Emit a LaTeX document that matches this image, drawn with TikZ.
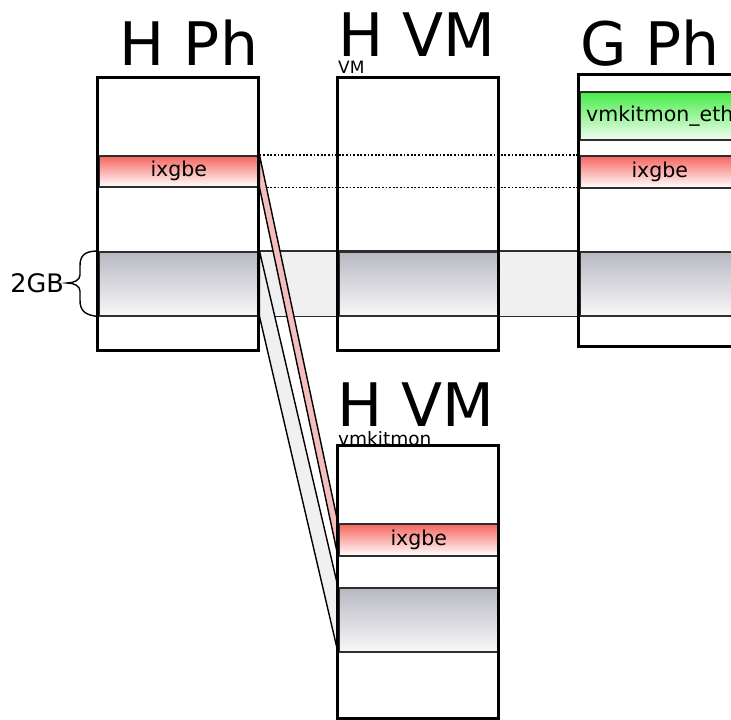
\documentclass[tikz,border=0pt]{standalone}
\usepackage{fontspec}
\setmainfont{DejaVu Sans}
\usetikzlibrary{calc}
\definecolor{redtop}{RGB}{246,100,94}
\definecolor{greentop}{RGB}{70,236,70}
\definecolor{greenbot}{RGB}{242,253,242}
\definecolor{graytop}{RGB}{184,184,194}
\definecolor{graybot}{RGB}{248,248,248}
\definecolor{lightband}{RGB}{240,240,240}
\definecolor{pinkfill}{RGB}{245,190,190}
\definecolor{bandgray}{RGB}{45,45,45}
\tikzset{
  boxfill/.style={fill=white, draw=none, inner sep=0pt, minimum width=160pt, minimum height=272pt},
  boxline/.style={draw=black, line width=3pt},
  bandbase/.style={draw=bandgray, line width=1.5pt, inner sep=0pt, minimum width=160pt, anchor=north west, font=\fontsize{20.5}{20.5}\selectfont},
  redband/.style={bandbase, top color=redtop, bottom color=white},
  greenband/.style={bandbase, top color=greentop, bottom color=greenbot},
  memband/.style={bandbase, top color=graytop, bottom color=graybot},
  title/.style={inner sep=0pt, anchor=base, font=\fontsize{60}{60}\selectfont},
  subtitle/.style={inner sep=0pt, anchor=base west, font=\fontsize{18.5}{18.5}\selectfont},
  dotline/.style={draw=black, line width=1.5pt, dash pattern=on 1.8pt off 1.8pt},
  pinkstrip/.style={fill=pinkfill, draw=black, line width=1.4pt, line join=round},
  graystrip/.style={fill=lightband, draw=black, line width=1.4pt, line join=round},
  thinline/.style={draw=bandgray, line width=1.5pt},
}
\begin{document}
\begin{tikzpicture}[x=1pt,y=-1pt]
\useasboundingbox (0,0) rectangle (731,720);
\clip (0,0) rectangle (731,720);

% box backgrounds
\node[boxfill] (hph) at (178,214) {};
\node[boxfill] (tvm) at (418,214) {};
\node[boxfill, minimum height=271pt] (gph) at (659,210.5) {};
\node[boxfill] (bvm) at (418,582) {};

% bands
\node[redband, minimum height=31pt] (hphnic) at (98,155) {ixgbe};
\node[memband, minimum height=64pt] (hphmem) at (98,251) {};
\node[memband, minimum height=64pt] (tvmmem) at (338,251) {};
\node[greenband, minimum height=48pt] (gpheth) at (579,91) {vmkitmon\_eth};
\node[redband, minimum height=32pt] (gphnic) at (579,155) {ixgbe};
\node[memband, minimum height=64pt] (gphmem) at (579,251) {};
\node[redband, minimum height=32pt] (bvmnic) at (338,523) {ixgbe};
\node[memband, minimum height=64pt] (bvmmem) at (338,587) {};

% light band between boxes
\fill[lightband] (hphmem.north east) rectangle (tvmmem.south west);
\fill[lightband] (tvmmem.north east) rectangle (gphmem.south west);
\draw[thinline] (hphmem.north east) -- (gphmem.north west);
\draw[thinline] (hphmem.south east) -- (gphmem.south west);

% dotted guide lines
\draw[dotline] (hphnic.north east) -- (hphnic.north east -| gphnic.west);
\draw[dotline] (hphnic.south east) -- (hphnic.south east -| gphnic.west);

% mapping strips
\draw[graystrip] (hphmem.north east) -- (hphmem.south east) -- (bvmmem.south west) -- (bvmmem.north west) -- cycle;
\draw[pinkstrip] (hphnic.north east) -- (hphnic.south east) -- (bvmnic.south west) -- (bvmnic.north west) -- cycle;

% box outlines
\draw[boxline] (hph.north west) rectangle (hph.south east);
\draw[boxline] (tvm.north west) rectangle (tvm.south east);
\draw[boxline] (gph.north west) rectangle (gph.south east);
\draw[boxline] (bvm.north west) rectangle (bvm.south east);

% titles
\node[title] (thph) at (189,65) {H Ph};
\node[title] (ttvm) at (417,56) {H VM};
\node[title, anchor=base west] (tgph) at (580,65) {G Ph};
\node[title] (tbvm) at (416,426) {H VM};
\node[subtitle, font=\fontsize{17}{17}\selectfont] (stvm) at (338,73) {VM};
\node[subtitle] (sbvm) at (338,445) {vmkitmon};

% brace
\coordinate (tip) at (67,283);
\draw[line width=1.4pt] (hphmem.north west) .. controls (84,251) and (80,256) .. (80,266) -- (80,275)
  .. controls (80,280) and (74,283) .. (tip)
  .. controls (74,283) and (80,286) .. (80,291) -- (80,300)
  .. controls (80,310) and (84,315) .. (hphmem.south west);
\node[inner sep=0pt, anchor=east, font=\fontsize{25.5}{25.5}\selectfont] (gb) at ($(tip)+(-3,0)$) {2GB};
\end{tikzpicture}
\end{document}
